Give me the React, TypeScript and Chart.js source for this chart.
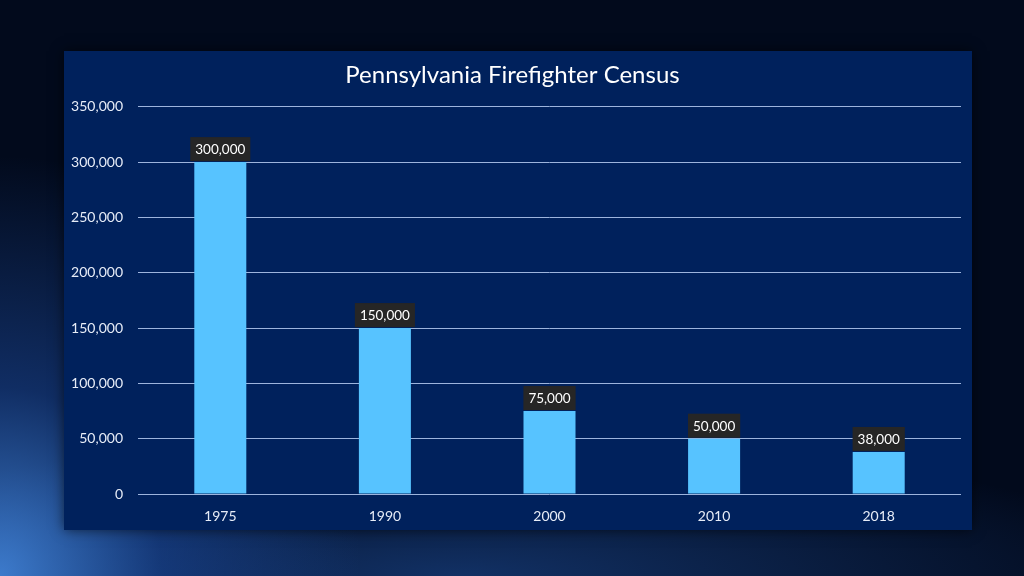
import React, { useEffect, useRef } from "react";
import { Chart, registerables } from "chart.js";

Chart.register(...registerables);

const categories = ["1975", "1990", "2000", "2010", "2018"];
const firefighters = [300000, 150000, 75000, 50000, 38000];
const yTicks = [0, 50000, 100000, 150000, 200000, 250000, 300000, 350000];
const chartTitle = "Pennsylvania Firefighter Census";

const FONT = "Lato, 'Open Sans', sans-serif";

const labelPlugin = {
  id: "barLabels",
  afterDatasetsDraw(chart: any) {
    const ctx = chart.ctx;
    const meta = chart.getDatasetMeta(0);
    ctx.save();
    ctx.font = `13.5px ${FONT}`;
    meta.data.forEach((bar: any, i: number) => {
      const txt = firefighters[i].toLocaleString("en-US");
      const w = ctx.measureText(txt).width + 10;
      const h = 24;
      const x = bar.x - w / 2;
      const y = bar.y - h - 1;
      ctx.fillStyle = "#262626";
      ctx.fillRect(x, y, w, h);
      ctx.fillStyle = "#ffffff";
      ctx.textAlign = "center";
      ctx.textBaseline = "middle";
      ctx.fillText(txt, bar.x, y + h / 2 + 1);
    });
    ctx.restore();
  },
};

export default function App() {
  const ref = useRef<HTMLCanvasElement>(null);
  useEffect(() => {
    if (!ref.current) return;
    const chart = new Chart(ref.current, {
      type: "bar",
      data: {
        labels: categories,
        datasets: [
          {
            data: firefighters,
            backgroundColor: "#57c3ff",
            barPercentage: 0.316,
            categoryPercentage: 1,
          },
        ],
      },
      options: {
        animation: false,
        responsive: false,
        maintainAspectRatio: false,
        layout: { padding: { left: 0, right: 11, top: 0, bottom: 0 } },
        plugins: {
          legend: { display: false },
          tooltip: { enabled: false },
          title: {
            display: true,
            text: chartTitle,
            color: "#ffffff",
            font: { family: FONT, size: 24, weight: "normal" as any },
            padding: { top: 10, bottom: 17 },
          },
        },
        scales: {
          x: {
            grid: { display: false, drawTicks: false },
            border: { display: false },
            ticks: { color: "#e6ecf7", font: { family: FONT, size: 14 }, padding: 14 },
            afterFit(scale: any) {
              scale.height = 36;
            },
          },
          y: {
            min: 0,
            max: 350000,
            afterBuildTicks(scale: any) {
              scale.ticks = yTicks.map((v) => ({ value: v }));
            },
            grid: { color: "#9db4dd", lineWidth: 1, drawTicks: false },
            border: { display: false },
            ticks: {
              color: "#e6ecf7",
              font: { family: FONT, size: 14 },
              padding: 15,
              callback: (v: any) => Number(v).toLocaleString("en-US"),
            },
            afterFit(scale: any) {
              scale.width = 74;
            },
          },
        },
      },
      plugins: [labelPlugin],
    });
    return () => chart.destroy();
  }, []);

  return (
    <div
      style={{
        position: "fixed",
        left: 0,
        top: 0,
        width: 1024,
        height: 576,
        overflow: "hidden",
        background:
          "radial-gradient(ellipse 360px 420px at 0% 100%, rgba(70,140,230,0.85) 0%, rgba(30,80,170,0.5) 45%, rgba(5,20,50,0) 100%), radial-gradient(ellipse 700px 140px at 45% 100%, rgba(30,80,160,0.55) 0%, rgba(5,20,50,0) 100%), #020a1c",
      }}
    >
      <div
        style={{
          position: "absolute",
          left: 64,
          top: 51,
          width: 908,
          height: 479,
          background: "#00215c",
          boxShadow: "0 0 12px rgba(0,0,0,0.6)",
        }}
      >
        <canvas ref={ref} width={908} height={479} style={{ display: "block" }} />
      </div>
    </div>
  );
}
